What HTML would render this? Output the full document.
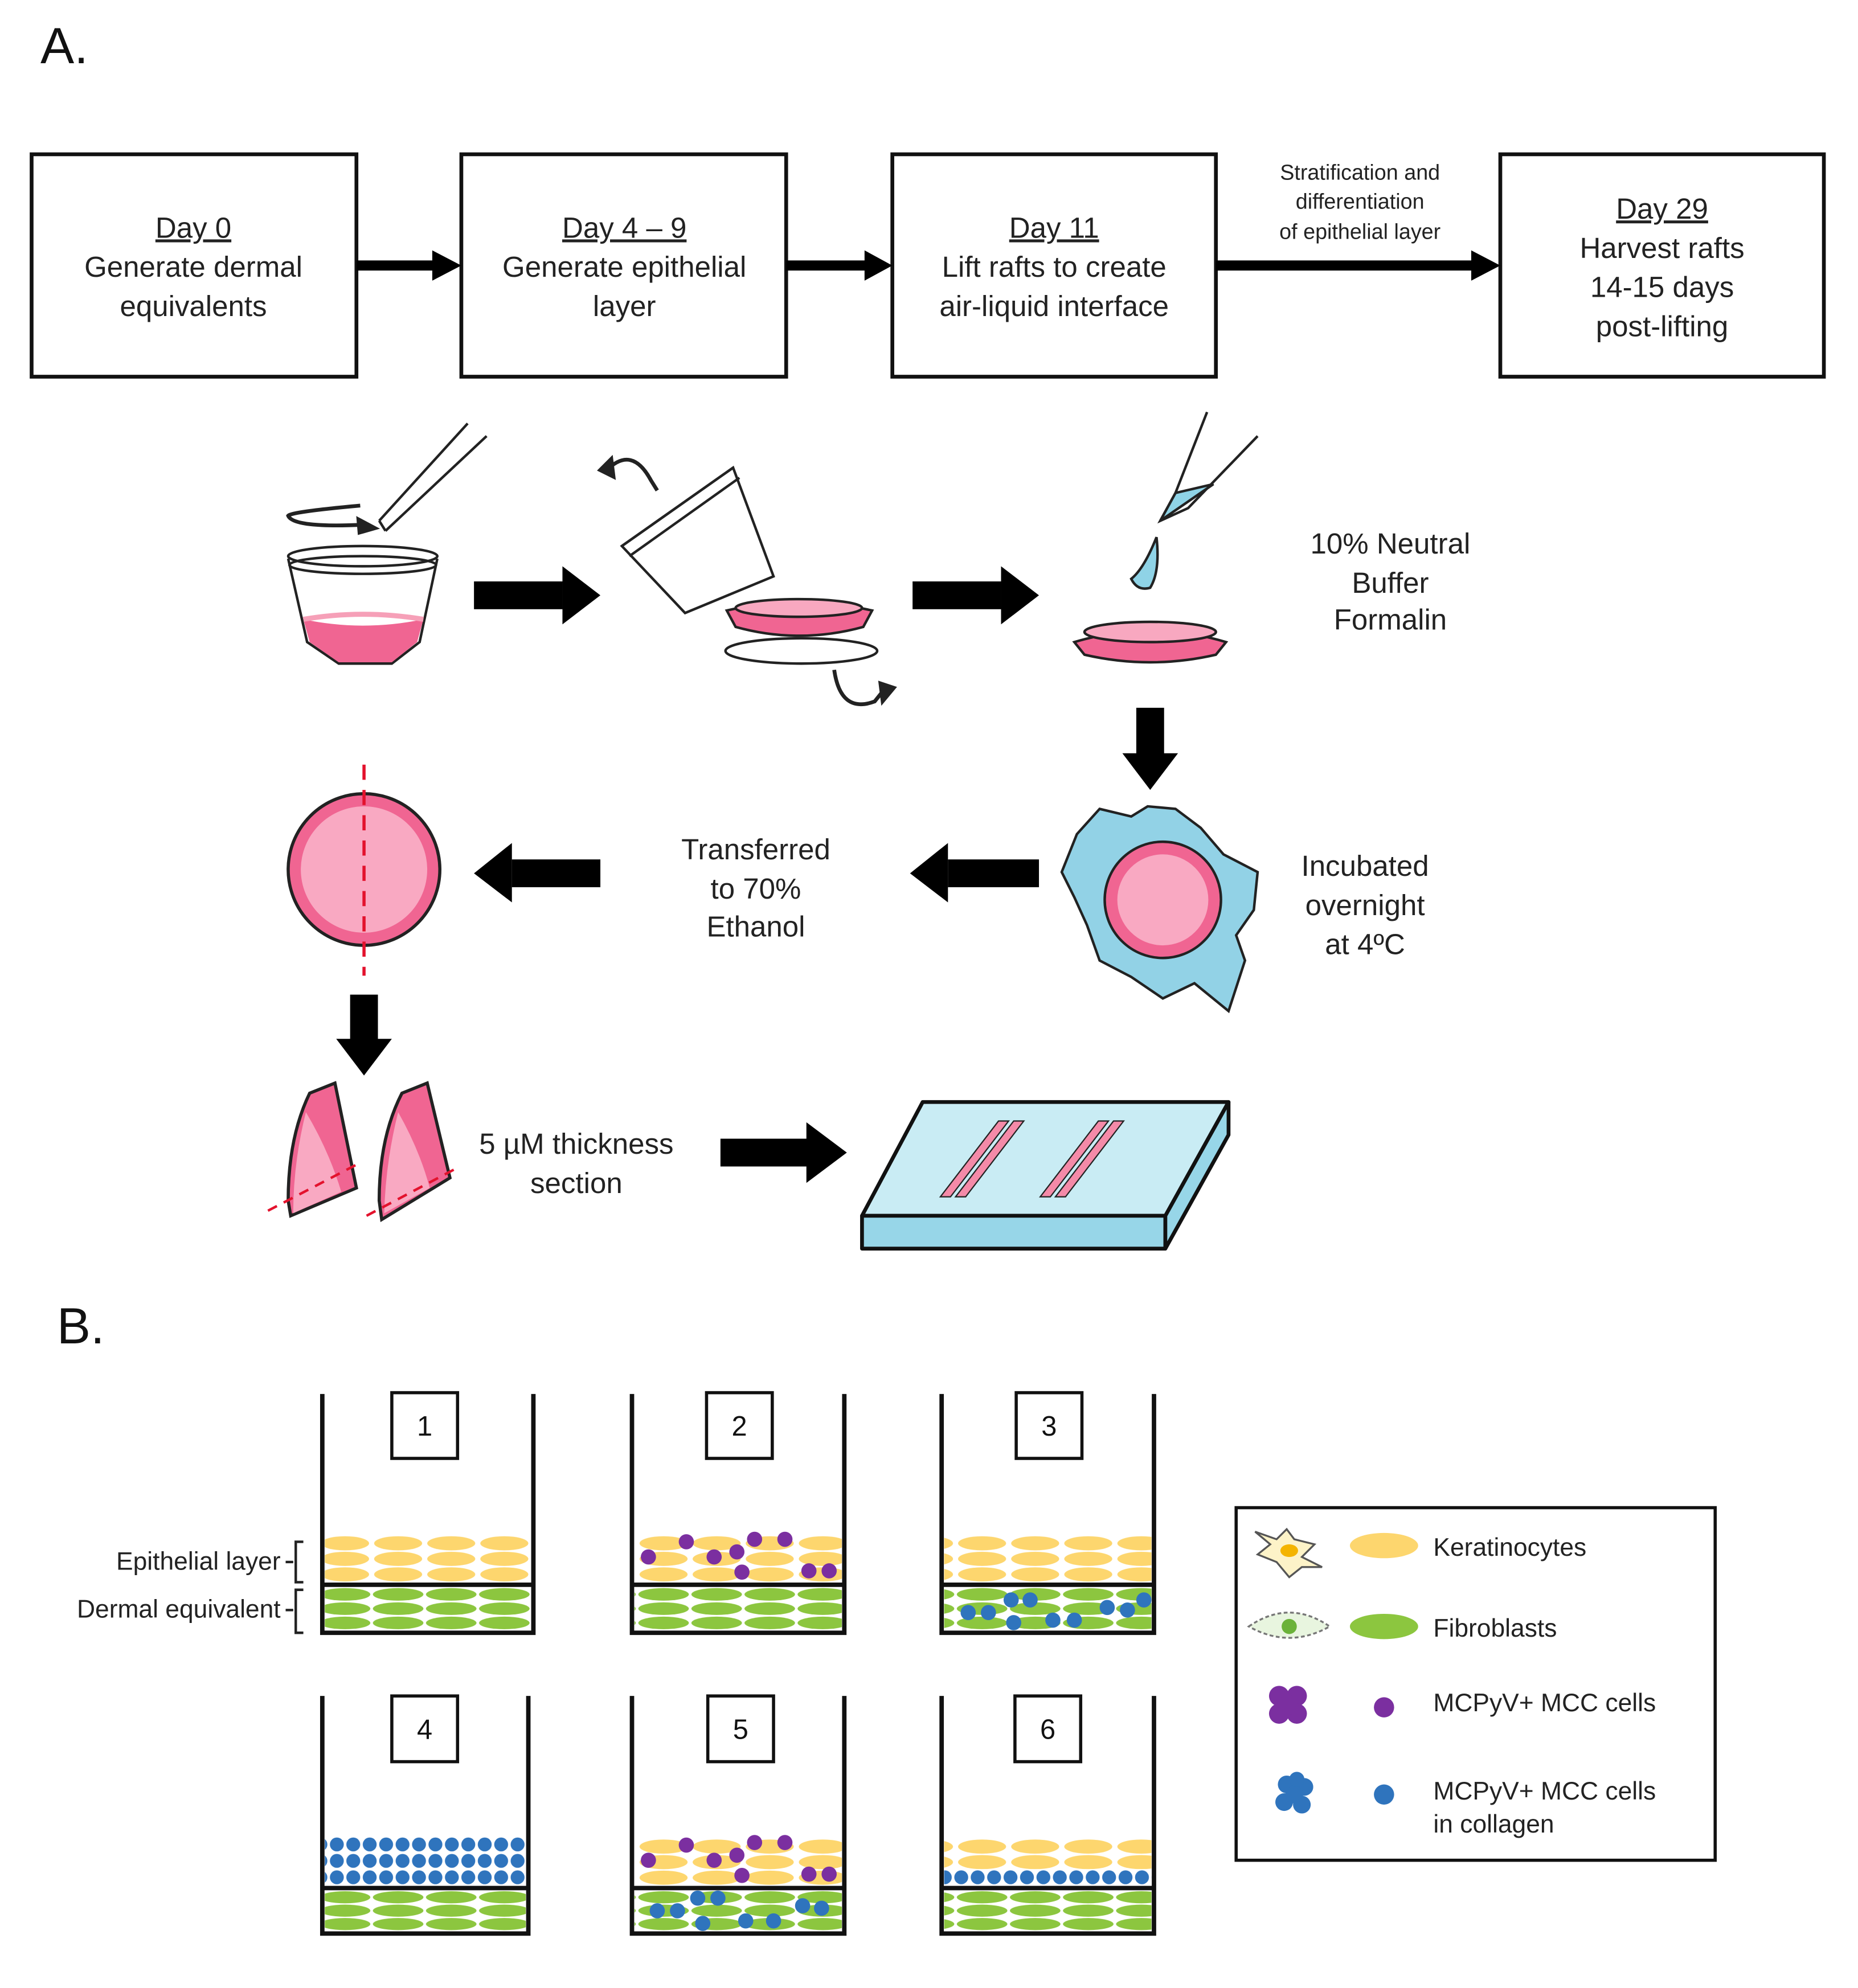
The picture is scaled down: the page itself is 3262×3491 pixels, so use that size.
<!DOCTYPE html>
<html><head><meta charset="utf-8"><style>html,body{margin:0;padding:0;background:#fff}svg{display:block}</style></head>
<body>
<svg width="3262" height="3491" viewBox="0 0 1470 1573" xmlns="http://www.w3.org/2000/svg" font-family="Liberation Sans, Arial, sans-serif">
<defs>
<pattern id="ker" x="0" y="1215" width="42" height="12.3" patternUnits="userSpaceOnUse">
<rect width="42" height="13" fill="#fff"/>
<ellipse cx="21" cy="6.2" rx="19" ry="5.6" fill="#fdd66e"/>
</pattern>
<pattern id="ker2" x="0" y="1455" width="42" height="12.3" patternUnits="userSpaceOnUse">
<rect width="42" height="13" fill="#fff"/>
<ellipse cx="21" cy="6.2" rx="19" ry="5.6" fill="#fdd66e"/>
</pattern>
<pattern id="fib" x="0" y="1256" width="42" height="11.3" patternUnits="userSpaceOnUse">
<rect width="42" height="12" fill="#fff"/>
<ellipse cx="21" cy="5.6" rx="20" ry="5" fill="#8cc63f"/>
</pattern>
<pattern id="fib2" x="0" y="1496" width="42" height="10.6" patternUnits="userSpaceOnUse">
<rect width="42" height="12" fill="#fff"/>
<ellipse cx="21" cy="5.3" rx="20" ry="4.8" fill="#8cc63f"/>
</pattern>
<pattern id="blu" x="0" y="1453" width="13" height="13" patternUnits="userSpaceOnUse">
<circle cx="6.5" cy="6.5" r="5.5" fill="#2f74bd"/>
</pattern>
<pattern id="blu2" x="0" y="1479" width="13" height="13" patternUnits="userSpaceOnUse">
<circle cx="6.5" cy="6.5" r="5.5" fill="#2f74bd"/>
</pattern>
</defs>
<rect width="1470" height="1573" fill="#fff"/>
<text x="32" y="50" font-size="40" fill="#111">A.</text>

<!-- top boxes -->
<g fill="none" stroke="#111" stroke-width="3">
<rect x="25" y="122" width="257" height="176"/>
<rect x="365" y="122" width="257" height="176"/>
<rect x="706" y="122" width="256" height="176"/>
<rect x="1187" y="122" width="256" height="176"/>
</g>
<g fill="#000">
<rect x="282" y="206" width="62" height="8"/><path d="M342,198 L365,210 L342,222z"/>
<rect x="622" y="206" width="64" height="8"/><path d="M684,198 L706,210 L684,222z"/>
<rect x="962" y="206" width="204" height="8"/><path d="M1164,198 L1187,210 L1164,222z"/>
</g>
<g font-size="23" fill="#222" text-anchor="middle">
<text x="153" y="188" text-decoration="underline">Day 0</text>
<text x="153" y="219">Generate dermal</text>
<text x="153" y="250">equivalents</text>
<text x="494" y="188" text-decoration="underline">Day 4 – 9</text>
<text x="494" y="219">Generate epithelial</text>
<text x="494" y="250">layer</text>
<text x="834" y="188" text-decoration="underline">Day 11</text>
<text x="834" y="219">Lift rafts to create</text>
<text x="834" y="250">air-liquid interface</text>
<text x="1315" y="173" text-decoration="underline">Day 29</text>
<text x="1315" y="204">Harvest rafts</text>
<text x="1315" y="235">14-15 days</text>
<text x="1315" y="266">post-lifting</text>
</g>
<g font-size="17" fill="#222" text-anchor="middle">
<text x="1076" y="142">Stratification and</text>
<text x="1076" y="165">differentiation</text>
<text x="1076" y="189">of epithelial layer</text>
</g>

<!-- cup -->
<g stroke="#222" stroke-width="2" fill="none">
<path d="M228,442 L243,508 L268,525 L310,525 L332,508 L346,442"/>
<path d="M240,490 Q287,500 335,490 L330,508 L310,524 L268,524 L245,508z" fill="#f06592" stroke="none"/>
<ellipse cx="287" cy="440" rx="59" ry="8"/>
<ellipse cx="287" cy="447" rx="58" ry="7"/>
<path d="M240,490 Q287,482 335,490" stroke="#f6a0b8" stroke-width="4"/>
<path d="M300,412 L370,335 M305,420 L385,345 M300,412 L305,420"/>
<path d="M285,400 Q230,405 228,408 Q232,418 290,415" stroke-width="3"/>
<path d="M283,410 L298,418 L284,422z" fill="#222"/>
</g>
<!-- lid tilted -->
<g stroke="#222" stroke-width="2" fill="none">
<path d="M492,432 L542,485 L612,456 L580,370 Z" fill="#fff"/>
<path d="M492,432 L580,370 M498,440 L585,378"/>
<path d="M480,372 Q500,352 515,380 L520,388" stroke-width="3"/>
<path d="M474,372 L484,362 L486,378z" fill="#222"/>
<path d="M575,483 Q632,470 690,483 L683,496 Q632,510 582,496 Z" fill="#f06592"/>
<ellipse cx="632" cy="481" rx="50" ry="7" fill="#f8a8c0"/>
<ellipse cx="634" cy="515" rx="60" ry="10" fill="#fff"/>
<path d="M660,530 Q665,565 692,555 L700,545" stroke-width="3"/>
<path d="M696,540 L708,544 L698,556z" fill="#222"/>
</g>
<!-- pipette -->
<g stroke="#222" stroke-width="2">
<path d="M955,326 L930,390 L918,412 L940,402 L995,345" fill="none"/>
<path d="M930,390 L918,412 L960,383 Z" fill="#8fd3e6"/>
<path d="M915,425 Q905,450 895,458 Q900,468 910,465 Q918,452 915,425z" fill="#8fd3e6"/>
<path d="M850,508 Q910,490 970,508 L962,518 Q910,530 858,518 Z" fill="#f06592"/>
<ellipse cx="910" cy="500" rx="52" ry="8" fill="#f8a8c0"/>
</g>

<!-- block arrows -->
<g fill="#000">
<rect x="375" y="460" width="70" height="22"/><path d="M445,448 L475,471 L445,494z"/>
<rect x="722" y="460" width="70" height="22"/><path d="M792,448 L822,471 L792,494z"/>
<rect x="899" y="560" width="22" height="38"/><path d="M888,596 L932,596 L910,625z"/>
<rect x="405" y="680" width="70" height="22"/><path d="M405,667 L375,691 L405,714z"/>
<rect x="750" y="680" width="72" height="22"/><path d="M750,667 L720,691 L750,714z"/>
<rect x="277" y="787" width="22" height="36"/><path d="M266,822 L310,822 L288,851z"/>
<rect x="570" y="901" width="70" height="22"/><path d="M638,888 L670,912 L638,936z"/>
</g>
<g font-size="23" fill="#222" text-anchor="middle">
<text x="1100" y="438">10% Neutral</text><text x="1100" y="469">Buffer</text><text x="1100" y="498">Formalin</text>
<text x="598" y="680">Transferred</text><text x="598" y="711">to 70%</text><text x="598" y="741">Ethanol</text>
<text x="1080" y="693">Incubated</text><text x="1080" y="724">overnight</text><text x="1080" y="755">at 4ºC</text>
<text x="456" y="913">5 µM thickness</text><text x="456" y="944">section</text>
</g>

<!-- circle raft -->
<circle cx="288" cy="688" r="60" fill="#f06592" stroke="#222" stroke-width="2.5"/>
<circle cx="288" cy="688" r="50" fill="#f9a9c2"/>
<line x1="288" y1="605" x2="288" y2="772" stroke="#e3122d" stroke-width="2.5" stroke-dasharray="12 8"/>
<!-- blue blob -->
<path d="M870,640 L895,646 L908,638 L930,640 L950,655 L968,676 L995,690 L992,720 L978,740 L985,760 L972,800 L945,778 L920,790 L895,773 L870,760 L860,732 L850,710 L840,690 L852,660 Z" fill="#92d2e6" stroke="#222" stroke-width="2"/>
<circle cx="920" cy="712" r="46" fill="#f06592" stroke="#222" stroke-width="2"/>
<circle cx="920" cy="712" r="36" fill="#f9a9c2"/>
<!-- wedges -->
<g stroke="#222" stroke-width="2.5">
<path d="M245,865 L265,857 L282,940 L230,962 L228,950 Q228,900 245,865z" fill="#f06592"/>
<path d="M242,880 Q232,920 232,960 L270,943 Q260,910 242,880z" fill="#f9a9c2" stroke="none"/>
<path d="M318,865 L338,857 L356,932 L302,965 L300,950 Q300,900 318,865z" fill="#f06592"/>
<path d="M315,880 Q305,920 304,960 L340,940 Q332,910 315,880z" fill="#f9a9c2" stroke="none"/>
</g>
<g stroke="#e3122d" stroke-width="2" stroke-dasharray="8 6"><line x1="212" y1="958" x2="285" y2="920"/><line x1="290" y1="962" x2="360" y2="925"/></g>
<!-- slide -->
<g stroke="#111" stroke-width="3" stroke-linejoin="round">
<path d="M730,872 L972,872 L922,962 L682,962 Z" fill="#c9ecf4"/>
<path d="M682,962 L922,962 L922,988 L682,988 Z" fill="#97d6e8"/>
<path d="M922,962 L972,872 L972,898 L922,988 Z" fill="#97d6e8"/>
</g>
<g fill="#f48aa8" stroke="#222" stroke-width="1">
<path d="M790,887 L798,887 L752,947 L744,947Z"/><path d="M802,887 L810,887 L764,947 L756,947Z"/>
<path d="M869,887 L877,887 L831,947 L823,947Z"/><path d="M881,887 L889,887 L843,947 L835,947Z"/>
</g>

<!-- B -->
<text x="45" y="1063" font-size="40" fill="#111">B.</text>
<!-- well 1 -->
<rect x="257" y="1215" width="163" height="37" fill="url(#ker)"/>
<rect x="257" y="1256" width="163" height="34" fill="url(#fib)"/>
<!-- well 2 -->
<rect x="502" y="1215" width="164" height="37" fill="url(#ker)"/>
<rect x="502" y="1256" width="164" height="34" fill="url(#fib)"/>
<g fill="#7b2fa0"><circle cx="513" cy="1232" r="6"/><circle cx="543" cy="1220" r="6"/><circle cx="565" cy="1232" r="6"/><circle cx="583" cy="1228" r="6"/><circle cx="597" cy="1218" r="6"/><circle cx="621" cy="1218" r="6"/><circle cx="587" cy="1244" r="6"/><circle cx="640" cy="1243" r="6"/><circle cx="656" cy="1243" r="6"/></g>
<!-- well 3 -->
<rect x="747" y="1215" width="164" height="37" fill="url(#ker)"/>
<rect x="747" y="1256" width="164" height="34" fill="url(#fib)"/>
<g fill="#2f74bd"><circle cx="766" cy="1276" r="6"/><circle cx="782" cy="1276" r="6"/><circle cx="800" cy="1266" r="6"/><circle cx="815" cy="1266" r="6"/><circle cx="802" cy="1284" r="6"/><circle cx="833" cy="1282" r="6"/><circle cx="850" cy="1282" r="6"/><circle cx="876" cy="1272" r="6"/><circle cx="892" cy="1274" r="6"/><circle cx="905" cy="1266" r="6"/></g>
<!-- well 4 -->
<rect x="257" y="1453" width="159" height="39" fill="url(#blu)"/>
<rect x="257" y="1496" width="159" height="32" fill="url(#fib2)"/>
<!-- well 5 -->
<rect x="502" y="1455" width="164" height="37" fill="url(#ker2)"/>
<rect x="502" y="1496" width="164" height="32" fill="url(#fib2)"/>
<g fill="#7b2fa0"><circle cx="513" cy="1472" r="6"/><circle cx="543" cy="1460" r="6"/><circle cx="565" cy="1472" r="6"/><circle cx="583" cy="1468" r="6"/><circle cx="597" cy="1458" r="6"/><circle cx="621" cy="1458" r="6"/><circle cx="587" cy="1484" r="6"/><circle cx="640" cy="1483" r="6"/><circle cx="656" cy="1483" r="6"/></g>
<g fill="#2f74bd"><circle cx="520" cy="1512" r="6"/><circle cx="536" cy="1512" r="6"/><circle cx="552" cy="1502" r="6"/><circle cx="568" cy="1502" r="6"/><circle cx="556" cy="1522" r="6"/><circle cx="590" cy="1520" r="6"/><circle cx="612" cy="1520" r="6"/><circle cx="635" cy="1508" r="6"/><circle cx="650" cy="1510" r="6"/></g>
<!-- well 6 -->
<rect x="747" y="1455" width="164" height="24" fill="url(#ker2)"/>
<rect x="747" y="1479" width="164" height="13" fill="url(#blu2)"/>
<rect x="747" y="1496" width="164" height="32" fill="url(#fib2)"/>

<g fill="none" stroke="#111" stroke-width="3.5">
<path d="M255,1103 V1292 H422 V1103"/><line x1="255" y1="1254" x2="422" y2="1254"/>
<path d="M500,1103 V1292 H668 V1103"/><line x1="500" y1="1254" x2="668" y2="1254"/>
<path d="M745,1103 V1292 H913 V1103"/><line x1="745" y1="1254" x2="913" y2="1254"/>
<path d="M255,1342 V1530 H418 V1342"/><line x1="255" y1="1494" x2="418" y2="1494"/>
<path d="M500,1342 V1530 H668 V1342"/><line x1="500" y1="1494" x2="668" y2="1494"/>
<path d="M745,1342 V1530 H913 V1342"/><line x1="745" y1="1494" x2="913" y2="1494"/>
</g>
<g fill="#fff" stroke="#111" stroke-width="2.5">
<rect x="310" y="1102" width="52" height="52"/><rect x="559" y="1102" width="52" height="52"/><rect x="804" y="1102" width="52" height="52"/>
<rect x="310" y="1342" width="52" height="52"/><rect x="560" y="1342" width="52" height="52"/><rect x="803" y="1342" width="52" height="52"/>
</g>
<g font-size="22" fill="#111" text-anchor="middle">
<text x="336" y="1136">1</text><text x="585" y="1136">2</text><text x="830" y="1136">3</text>
<text x="336" y="1376">4</text><text x="586" y="1376">5</text><text x="829" y="1376">6</text>
</g>
<g font-size="20" fill="#222" text-anchor="end">
<text x="222" y="1242">Epithelial layer</text>
<text x="222" y="1280">Dermal equivalent</text>
</g>
<g fill="none" stroke="#222" stroke-width="2">
<path d="M226,1236 H232 M240,1220 H234 V1252 H240"/>
<path d="M226,1274 H232 M240,1258 H234 V1292 H240"/>
</g>
<!-- legend -->
<rect x="978" y="1193" width="379" height="279" fill="#fff" stroke="#111" stroke-width="2.5"/>
<path d="M993,1212 L1010,1218 L1018,1210 L1024,1218 L1040,1222 L1030,1232 L1046,1240 L1030,1240 L1020,1248 L1010,1236 L995,1230 L1005,1222Z" fill="#fdf3c8" stroke="#555" stroke-width="1.5"/>
<ellipse cx="1020" cy="1227" rx="7" ry="5" fill="#f4b400"/>
<ellipse cx="1095" cy="1223" rx="27" ry="10" fill="#fdd66e"/>
<path d="M988,1287 Q1020,1265 1052,1287 Q1020,1305 988,1287Z" fill="#e8f5df" stroke="#777" stroke-width="1.5" stroke-dasharray="3 2"/>
<circle cx="1020" cy="1287" r="6" fill="#6bb23a"/>
<ellipse cx="1095" cy="1287" rx="27" ry="10" fill="#8cc63f"/>
<g fill="#7b2fa0"><circle cx="1012" cy="1342" r="8"/><circle cx="1026" cy="1342" r="8"/><circle cx="1012" cy="1356" r="8"/><circle cx="1026" cy="1356" r="8"/><circle cx="1019" cy="1349" r="8"/></g>
<circle cx="1095" cy="1351" r="8" fill="#7b2fa0"/>
<g fill="#2f74bd"><circle cx="1018" cy="1412" r="7"/><circle cx="1032" cy="1414" r="7"/><circle cx="1016" cy="1426" r="7"/><circle cx="1030" cy="1428" r="7"/><circle cx="1024" cy="1420" r="7"/><circle cx="1026" cy="1408" r="6"/></g>
<circle cx="1095" cy="1420" r="8" fill="#2f74bd"/>
<g font-size="20" fill="#222">
<text x="1134" y="1231">Keratinocytes</text>
<text x="1134" y="1295">Fibroblasts</text>
<text x="1134" y="1354">MCPyV+ MCC cells</text>
<text x="1134" y="1424">MCPyV+ MCC cells</text>
<text x="1134" y="1450">in collagen</text>
</g>
</svg>
</body></html>
